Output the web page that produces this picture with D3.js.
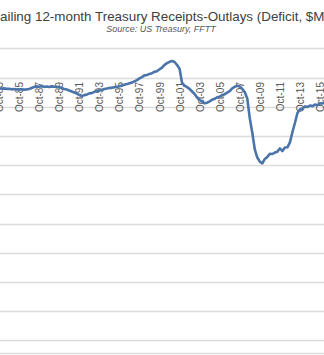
<!DOCTYPE html>
<html>
<head>
<meta charset="utf-8">
<script src="https://cdn.jsdelivr.net/npm/d3@7/dist/d3.min.js"></script>
<style>
  body { margin: 0; background: #fff; }
  svg { display: block; }
</style>
</head>
<body>
<div id="chart-area"></div>
<script>
// trailing 12-month receipts minus outlays, $M, one value per quarter (Jan, Apr, Jul, Oct)
var firstYear = 1983;
var deficit80s = [
  -175000, -190000, -195000, -185000,
  -190000, -186000, -195000, -192000,
  -203000, -198000, -206000, -200000,
  -204000, -207000, -203000, -197000,
  -180000, -163000, -152000, -157000,
  -150000, -160000, -155000, -163000,
  -152000, -156000, -158000, -166000
];
var deficit90s = [
  -180000, -197000, -205000, -223000,
  -240000, -257000, -274000, -300000,
  -316000, -302000, -293000, -272000,
  -267000, -246000, -233000, -221000,
  -213000, -198000, -190000, -178000,
  -177000, -166000, -161000, -149000,
  -139000, -126000, -113000, -97000,
  -88000, -66000, -45000, -15000,
  7000, 36000, 44000, 62000,
  74000, 97000, 108000, 140000
];
var deficit00s = [
  168000, 217000, 245000, 268000,
  282000, 265000, 214000, 150000,
  -100000, -140000, -165000, -197000,
  -240000, -282000, -342000, -385000,
  -414000, -442000, -432000, -408000,
  -380000, -365000, -338000, -328000,
  -304000, -286000, -260000, -235000,
  -185000, -158000, -143000, -155000,
  -197000, -250000, -360000, -700000,
  -950000, -1230000, -1370000, -1440000
];
var deficit10s = [
  -1470000, -1395000, -1360000, -1305000,
  -1310000, -1285000, -1270000, -1215000,
  -1260000, -1200000, -1195000, -1110000,
  -933000, -779000, -608000, -548000,
  -530000, -495000, -505000, -480000,
  -490000, -465000, -470000, -440000,
  -445000, -425000
];

// axis settings
var tickYears = d3.range(1983, 2016, 2);
var gridValues = d3.range(500000, -4500001, -500000);
var yFloor = -4720000;

var titleText = "Trailing 12-month Treasury Receipts-Outlays (Deficit, $M)";
var subtitleText = "Source: US Treasury, FFTT";

var width = 324, height = 355;

var values = deficit80s.concat(deficit90s, deficit00s, deficit10s);
var data = values.map(function(v, i) {
  return { date: new Date(firstYear + Math.floor(i / 4), (i % 4) * 3, 1), value: v };
});

var svg = d3.select("#chart-area")
  .append("svg")
    .attr("width", width)
    .attr("height", height)
    .style("font-family", "'Liberation Sans', Arial, sans-serif");

var x = d3.scaleTime()
  .domain([new Date(1983, 9, 1), new Date(2015, 9, 1)])
  .range([-1, 320]);

var y = d3.scaleLinear()
  .domain([500000, -4500000])
  .range([48.3, 340.3]);

// gridlines
svg.append("g")
  .selectAll("line")
  .data(gridValues.concat([yFloor]))
  .enter()
  .append("line")
    .attr("x1", 0)
    .attr("x2", width)
    .attr("y1", function(d) { return Math.round(y(d)) + 0.5; })
    .attr("y2", function(d) { return Math.round(y(d)) + 0.5; })
    .attr("stroke", "#dcdcdc")
    .attr("stroke-width", 1.3);

// x labels hanging under the zero line
var xAxis = d3.axisBottom(x)
  .tickValues(tickYears.map(function(yr) { return new Date(yr, 9, 1); }))
  .tickFormat(d3.timeFormat("Oct-%y"))
  .tickSize(0);

var xAxisGroup = svg.append("g")
  .attr("transform", "translate(0," + y(0) + ")")
  .call(xAxis);

xAxisGroup.select(".domain").remove();
xAxisGroup.selectAll("text")
  .attr("transform", "rotate(-90)")
  .attr("x", -4.5)
  .attr("y", 0)
  .attr("dy", "0.35em")
  .attr("text-anchor", "end")
  .attr("fill", "#595959")
  .attr("font-size", "10px")
  .attr("font-family", "'Liberation Sans', Arial, sans-serif");

// the series
var line = d3.line()
  .x(function(d) { return x(d.date); })
  .y(function(d) { return y(d.value); });

svg.append("path")
  .datum(data)
  .attr("fill", "none")
  .attr("stroke", "#4a74aa")
  .attr("stroke-width", 2.6)
  .attr("stroke-linejoin", "round")
  .attr("d", line);

// title, cut off on both sides like the original crop
var title = svg.append("text")
  .attr("y", 21)
  .attr("fill", "#404040")
  .attr("font-size", "13.4px")
  .text(titleText);

var probe = svg.append("text").attr("font-size", "13.4px").text("Tr");
var lead = probe.node().getComputedTextLength();
probe.remove();
title.attr("x", -lead);

svg.append("text")
  .attr("x", 161)
  .attr("y", 32)
  .attr("text-anchor", "middle")
  .attr("fill", "#595959")
  .attr("font-size", "9px")
  .attr("font-style", "italic")
  .text(subtitleText);
</script>
</body>
</html>
